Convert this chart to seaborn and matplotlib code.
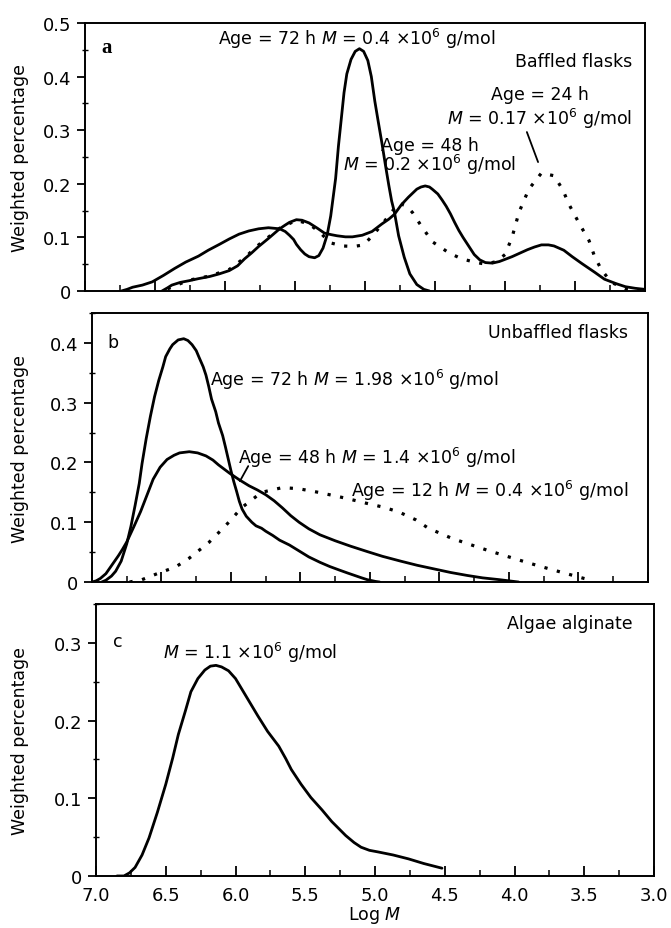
import numpy as np
import pandas as pd
import seaborn as sns
import matplotlib
matplotlib.use("Agg")
import matplotlib.pyplot as plt
from matplotlib.ticker import MultipleLocator, FuncFormatter

# ---------------- data: log M versus weighted percentage ----------------
# (a) baffled flasks
a72_logm = [6.74, 6.70, 6.66, 6.59, 6.52, 6.44, 6.36, 6.28, 6.19, 6.12, 6.04, 5.97,
            5.90, 5.83, 5.76, 5.69, 5.61, 5.57, 5.54, 5.51, 5.49, 5.46, 5.43, 5.40,
            5.36, 5.33, 5.30, 5.27, 5.245, 5.225, 5.21, 5.19, 5.17, 5.15, 5.13, 5.10,
            5.07, 5.04, 5.01, 4.98, 4.955, 4.93, 4.905, 4.88, 4.855, 4.83, 4.81, 4.79,
            4.76, 4.72, 4.68, 4.65, 4.63, 4.58, 4.54]
a72_w = [0.0, 0.003, 0.007, 0.011, 0.017, 0.029, 0.042, 0.054, 0.065, 0.076, 0.087, 0.097,
         0.106, 0.112, 0.116, 0.118, 0.116, 0.111, 0.104, 0.096, 0.087, 0.077, 0.069, 0.064,
         0.062, 0.066, 0.08, 0.105, 0.14, 0.18, 0.21, 0.27, 0.32, 0.37, 0.405, 0.432,
         0.447, 0.452, 0.447, 0.43, 0.40, 0.354, 0.315, 0.277, 0.236, 0.197, 0.168, 0.147,
         0.103, 0.063, 0.032, 0.02, 0.012, 0.003, 0.0]

a48_logm = [6.45, 6.41, 6.38, 6.32, 6.26, 6.19, 6.11, 6.04, 5.97, 5.91, 5.86, 5.81,
            5.76, 5.69, 5.65, 5.61, 5.57, 5.54, 5.49, 5.45, 5.40, 5.34, 5.29, 5.24,
            5.20, 5.14, 5.09, 5.02, 4.95, 4.88, 4.83, 4.79, 4.74, 4.69, 4.63, 4.60,
            4.57, 4.54, 4.52, 4.48, 4.45, 4.42, 4.39, 4.36, 4.33, 4.30, 4.27, 4.22,
            4.18, 4.14, 4.09, 4.04, 3.95, 3.84, 3.79, 3.74, 3.69, 3.65, 3.58, 3.52,
            3.45, 3.36, 3.29, 3.21, 3.14, 3.07, 3.00]
a48_w = [0.0, 0.006, 0.011, 0.016, 0.019, 0.023, 0.027, 0.032, 0.038, 0.047, 0.06, 0.071,
         0.083, 0.098, 0.107, 0.116, 0.123, 0.128, 0.133, 0.132, 0.127, 0.117, 0.108, 0.105,
         0.103, 0.101, 0.101, 0.104, 0.111, 0.125, 0.134, 0.143, 0.161, 0.175, 0.19, 0.194,
         0.196, 0.194, 0.19, 0.181, 0.17, 0.158, 0.144, 0.128, 0.113, 0.10, 0.088, 0.068,
         0.058, 0.053, 0.052, 0.055, 0.064, 0.077, 0.082, 0.086, 0.086, 0.084, 0.076, 0.064,
         0.051, 0.035, 0.022, 0.014, 0.008, 0.005, 0.003]

a24_logm = [6.41, 6.26, 6.11, 5.97, 5.86, 5.76, 5.61, 5.49, 5.40, 5.32, 5.25, 5.16,
            5.08, 5.01, 4.94, 4.84, 4.76, 4.70, 4.66, 4.61, 4.52, 4.40, 4.31, 4.22,
            4.14, 4.06, 4.00, 3.95, 3.90, 3.83, 3.74, 3.65, 3.59, 3.54, 3.47, 3.40,
            3.36, 3.31, 3.24, 3.13, 3.00]
a24_w = [0.004, 0.02, 0.028, 0.04, 0.062, 0.086, 0.117, 0.132, 0.125, 0.109, 0.09, 0.084,
         0.083, 0.086, 0.105, 0.137, 0.164, 0.158, 0.146, 0.126, 0.092, 0.071, 0.06, 0.054,
         0.05, 0.055, 0.068, 0.1, 0.147, 0.19, 0.22, 0.215, 0.19, 0.16, 0.126, 0.094,
         0.064, 0.039, 0.016, 0.003, 0.0]

# (b) unbaffled flasks
b72_logm = [6.93, 6.90, 6.86, 6.83, 6.79, 6.75, 6.72, 6.69, 6.66, 6.64, 6.61, 6.58,
            6.55, 6.52, 6.49, 6.47, 6.44, 6.42, 6.38, 6.34, 6.31, 6.28, 6.25, 6.23,
            6.20, 6.18, 6.16, 6.14, 6.11, 6.09, 6.06, 6.04, 6.02, 6.00, 5.98, 5.96,
            5.94, 5.92, 5.89, 5.85, 5.82, 5.78, 5.75, 5.70, 5.65, 5.58, 5.51, 5.44,
            5.36, 5.29, 5.22, 5.16, 5.11, 5.06, 5.02, 4.96, 4.93]
b72_w = [0.0, 0.003, 0.01, 0.018, 0.035, 0.064, 0.093, 0.128, 0.165, 0.198, 0.24, 0.277,
         0.31, 0.337, 0.36, 0.377, 0.39, 0.397, 0.405, 0.407, 0.404, 0.397, 0.387, 0.376,
         0.36, 0.346, 0.327, 0.306, 0.285, 0.266, 0.245, 0.226, 0.206, 0.186, 0.168, 0.152,
         0.135, 0.122, 0.11, 0.10, 0.094, 0.09, 0.085, 0.078, 0.07, 0.062, 0.052, 0.042,
         0.033, 0.026, 0.02, 0.015, 0.011, 0.007, 0.004, 0.001, 0.0]

b48_logm = [7.00, 6.97, 6.94, 6.90, 6.87, 6.84, 6.81, 6.78, 6.75, 6.70, 6.65, 6.60,
            6.56, 6.51, 6.46, 6.41, 6.37, 6.30, 6.24, 6.18, 6.13, 6.09, 6.05, 6.01,
            5.94, 5.87, 5.81, 5.75, 5.69, 5.63, 5.57, 5.51, 5.44, 5.36, 5.25, 5.14,
            5.02, 4.91, 4.78, 4.66, 4.54, 4.42, 4.30, 4.19, 4.07, 3.93]
b48_w = [0.0, 0.002, 0.006, 0.014, 0.024, 0.034, 0.044, 0.055, 0.067, 0.092, 0.118, 0.148,
         0.172, 0.192, 0.205, 0.212, 0.216, 0.218, 0.216, 0.211, 0.204, 0.196, 0.189, 0.182,
         0.171, 0.161, 0.154, 0.146, 0.136, 0.124, 0.111, 0.10, 0.089, 0.079, 0.069, 0.06,
         0.051, 0.043, 0.035, 0.028, 0.022, 0.016, 0.011, 0.007, 0.004, 0.0]

b12_logm = [6.73, 6.64, 6.52, 6.40, 6.30, 6.16, 6.04, 5.92, 5.78, 5.63, 5.51, 5.37,
            5.17, 5.03, 4.90, 4.79, 4.67, 4.58, 4.41, 4.27, 4.14, 4.00, 3.86, 3.71,
            3.57, 3.46, 3.39]
b12_w = [0.0, 0.004, 0.015, 0.025, 0.04, 0.066, 0.094, 0.125, 0.15, 0.158, 0.156, 0.15,
         0.14, 0.132, 0.125, 0.117, 0.104, 0.09, 0.073, 0.062, 0.052, 0.042, 0.032, 0.022,
         0.013, 0.006, 0.002]

# (c) algae alginate
c_logm = [6.85, 6.80, 6.76, 6.72, 6.67, 6.62, 6.56, 6.50, 6.45, 6.41, 6.36, 6.32,
          6.27, 6.22, 6.18, 6.14, 6.10, 6.05, 6.00, 5.96, 5.90, 5.84, 5.77, 5.69,
          5.64, 5.60, 5.53, 5.46, 5.38, 5.31, 5.26, 5.21, 5.15, 5.10, 5.04, 4.98,
          4.87, 4.76, 4.65, 4.52]
c_w = [0.0, 0.0, 0.004, 0.011, 0.027, 0.049, 0.082, 0.118, 0.152, 0.182, 0.212, 0.237,
       0.254, 0.265, 0.27, 0.271, 0.269, 0.264, 0.254, 0.242, 0.224, 0.206, 0.186, 0.167,
       0.151, 0.137, 0.118, 0.101, 0.085, 0.07, 0.061, 0.052, 0.043, 0.037, 0.033, 0.031,
       0.027, 0.022, 0.016, 0.01]

x_ticks = [7.0, 6.5, 6.0, 5.5, 5.0, 4.5, 4.0, 3.5, 3.0]
x_ticklabels = ["7.0", "6.5", "6.0", "5.5", "5.0", "4.5", "4.0", "3.5", "3.0"]

# ---------------- styling ----------------
sns.set_theme(style="ticks")
plt.rcParams["font.family"] = ["DejaVu Sans"]
plt.rcParams["mathtext.fontset"] = "dejavusans"
plt.rcParams["axes.edgecolor"] = "black"
plt.rcParams["axes.linewidth"] = 1.4
plt.rcParams["text.color"] = "black"
plt.rcParams["axes.labelcolor"] = "black"
plt.rcParams["xtick.color"] = "black"
plt.rcParams["ytick.color"] = "black"
plt.rcParams["xtick.labelcolor"] = "black"
plt.rcParams["ytick.labelcolor"] = "black"

FS = 12.5      # annotation text
FT = 13        # tick labels
FL = 12.5      # axis labels
LW = 2.0
DOT = (0, (1.0, 3.0))

fig = plt.figure(figsize=(6.71, 9.29), dpi=100)
ax_a = fig.add_axes([0.1267, 0.6857, 0.8346, 0.2885])
ax_b = fig.add_axes([0.1371, 0.3724, 0.8286, 0.2896])
ax_c = fig.add_axes([0.1431, 0.0560, 0.8316, 0.2928])


def draw(ax, x, y, dotted=False):
    df = pd.DataFrame({"logM": x, "w": y})
    sns.lineplot(data=df, x="logM", y="w", ax=ax, sort=False, estimator=None,
                 color="black", linewidth=2.3 if dotted else LW,
                 linestyle=DOT if dotted else "-",
                 solid_joinstyle="round", solid_capstyle="round")


def style_axis(ax, ymax, show_xlabels, label_x):
    ax.set_xlim(7.0, 3.0)
    ax.set_ylim(0, ymax)
    ax.xaxis.set_major_locator(MultipleLocator(0.5))
    ax.xaxis.set_minor_locator(MultipleLocator(0.25))
    ax.yaxis.set_major_locator(MultipleLocator(0.1))
    ax.yaxis.set_minor_locator(MultipleLocator(0.05))
    ax.tick_params(axis="x", which="major", direction="in", length=7, width=1.3,
                   labelsize=FT, colors="black", pad=7)
    ax.tick_params(axis="x", which="minor", direction="in", length=4, width=1.1)
    ax.tick_params(axis="y", which="major", direction="out", length=6, width=1.3,
                   labelsize=FT, colors="black", pad=4)
    ax.tick_params(axis="y", which="minor", direction="inout", length=4, width=1.0)
    ax.yaxis.set_major_formatter(
        FuncFormatter(lambda v, p: "0" if abs(v) < 1e-9 else f"{v:.1f}"))
    for s in ax.spines.values():
        s.set_visible(True)
        s.set_color("black")
        s.set_linewidth(1.4)
    if show_xlabels:
        ax.set_xticks(x_ticks)
        ax.set_xticklabels(x_ticklabels)
        ax.set_xlabel("Log $M$", fontsize=FL, labelpad=0)
    else:
        ax.set_xticklabels([])
        ax.set_xlabel("")
    ax.set_ylabel("Weighted percentage", fontsize=FL, color="black")
    ax.yaxis.set_label_coords(label_x, 0.5)


# panel a
draw(ax_a, a72_logm, a72_w)
draw(ax_a, a48_logm, a48_w)
draw(ax_a, a24_logm, a24_w, dotted=True)
style_axis(ax_a, 0.5, False, -0.100)
t = ax_a.transAxes
ax_a.text(0.030, 0.892, "a", transform=t, fontsize=15, va="baseline", ha="left",
          family="Liberation Serif", fontweight="bold")
ax_a.text(0.2375, 0.922, r"Age = 72 h $M$ = 0.4 ×10$^6$ g/mol", transform=t,
          fontsize=FS, va="baseline", ha="left")
ax_a.text(0.977, 0.84, "Baffled flasks", transform=t, fontsize=FS, va="baseline", ha="right")
ax_a.text(0.812, 0.623, "Age = 24 h\n" + r"$M$ = 0.17 ×10$^6$ g/mol", transform=t,
          fontsize=FS, va="baseline", ha="center", multialignment="center",
          linespacing=1.15)
ax_a.text(0.616, 0.451, "Age = 48 h\n" + r"$M$ = 0.2 ×10$^6$ g/mol", transform=t,
          fontsize=FS, va="baseline", ha="center", multialignment="center",
          linespacing=0.9)
ax_a.plot([0.789, 0.809], [0.593, 0.481], transform=t, color="black", lw=1.3)

# panel b
draw(ax_b, b72_logm, b72_w)
draw(ax_b, b48_logm, b48_w)
draw(ax_b, b12_logm, b12_w, dotted=True)
style_axis(ax_b, 0.45, False, -0.113)
t = ax_b.transAxes
ax_b.text(0.027, 0.874, "b", transform=t, fontsize=FS, va="baseline", ha="left")
ax_b.text(0.964, 0.911, "Unbaffled flasks", transform=t, fontsize=FS, va="baseline",
          ha="right")
ax_b.text(0.212, 0.732, r"Age = 72 h $M$ = 1.98 ×10$^6$ g/mol", transform=t,
          fontsize=FS, va="baseline", ha="left")
ax_b.text(0.263, 0.442, r"Age = 48 h $M$ = 1.4 ×10$^6$ g/mol", transform=t,
          fontsize=FS, va="baseline", ha="left")
ax_b.text(0.466, 0.32, r"Age = 12 h $M$ = 0.4 ×10$^6$ g/mol", transform=t,
          fontsize=FS, va="baseline", ha="left")
ax_b.plot([0.281, 0.266], [0.431, 0.375], transform=t, color="black", lw=1.3)

# panel c
draw(ax_c, c_logm, c_w)
style_axis(ax_c, 0.35, True, -0.120)
t = ax_c.transAxes
ax_c.text(0.030, 0.846, "c", transform=t, fontsize=FS, va="baseline", ha="left")
ax_c.text(0.12, 0.801, r"$M$ = 1.1 ×10$^6$ g/mol", transform=t, fontsize=FS,
          va="baseline", ha="left")
ax_c.text(0.962, 0.912, "Algae alginate", transform=t, fontsize=FS, va="baseline",
          ha="right")

fig.savefig("out.png", dpi=100, facecolor="white")
